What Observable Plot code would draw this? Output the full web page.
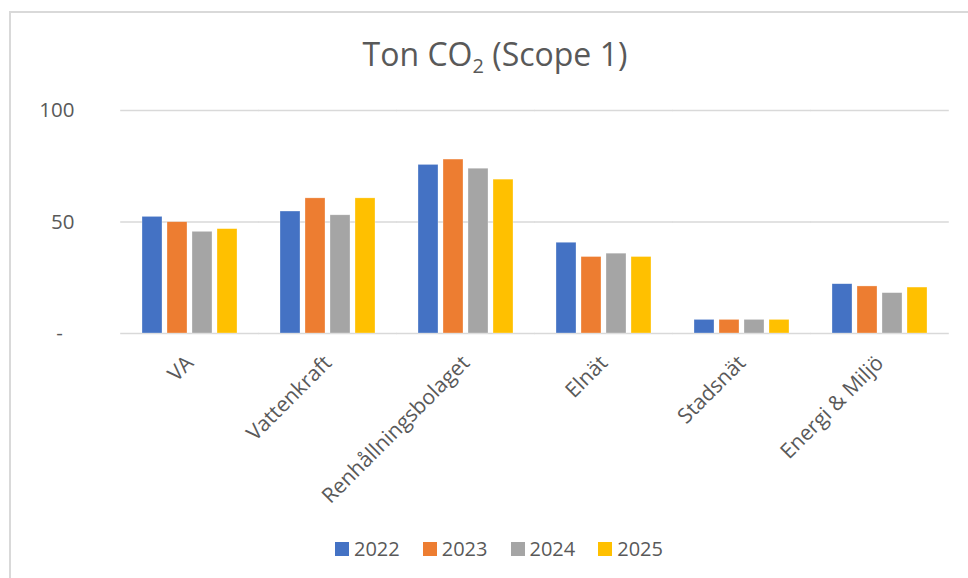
<!DOCTYPE html>
<html>
<head>
<meta charset="utf-8">
<script src="https://cdn.jsdelivr.net/npm/d3@7"></script>
<script src="https://cdn.jsdelivr.net/npm/@observablehq/plot@0.6"></script>
<style>
  html, body { margin: 0; padding: 0; background: #fff; }
  body { width: 968px; height: 578px; position: relative; overflow: hidden; font-family: "Open Sans", sans-serif; }
  #frame { position: absolute; left: 9px; top: 11px; width: 1000px; height: 600px; border-left: 2px solid #d9d9d9; border-top: 2px solid #d9d9d9; }
  #title { position: absolute; left: 0; width: 990px; top: 33px; text-align: center; font-size: 32px; color: #595959; line-height: 42px; }
  #title sub { font-size: 20px; vertical-align: -7px; line-height: 0; }
  #chart { position: absolute; left: 0; top: 0; }
  #legend { position: absolute; left: 335px; top: 536px; display: flex; align-items: center; font-size: 20px; color: #595959; line-height: 26px; }
  #legend .item { display: flex; align-items: center; margin-right: 23px; }
  #legend .sw { width: 14px; height: 14px; margin-right: 5px; }
</style>
</head>
<body>
<div id="frame"></div>
<div id="title">Ton CO<sub>2</sub> (Scope 1)</div>
<div id="chart"></div>
<div id="legend"></div>
<script>
const categories = ["VA", "Vattenkraft", "Renhållningsbolaget", "Elnät", "Stadsnät", "Energi & Miljö"];
const years = ["2022", "2023", "2024", "2025"];
const colors = ["#4472c4", "#ed7d31", "#a5a5a5", "#ffc000"];
const values2022 = [52.3, 54.7, 75.6, 40.7, 6.1, 22.1];
const values2023 = [49.9, 60.6, 78.0, 34.3, 6.1, 21.1];
const values2024 = [45.6, 53.0, 73.9, 35.8, 6.1, 18.1];
const values2025 = [46.8, 60.6, 69.0, 34.3, 6.1, 20.6];
const yTicks = [0, 50, 100];

const series = [values2022, values2023, values2024, values2025];
const data = [];
categories.forEach((c, i) => years.forEach((y, j) => data.push({category: c, year: y, value: series[j][i]})));

const chart = Plot.plot({
  width: 968,
  height: 520,
  marginLeft: 119,
  marginRight: 19,
  marginTop: 110,
  marginBottom: 187,
  style: {fontFamily: "'Open Sans', sans-serif", background: "transparent"},
  fx: {domain: categories, padding: 0.313, paddingOuter: 0.1565, label: null},
  x: {domain: years, padding: 0.2, paddingOuter: 0, axis: null},
  y: {domain: [0, 100], ticks: yTicks, label: null},
  color: {domain: years, range: colors},
  marks: [
    Plot.ruleY(yTicks, {stroke: "#d9d9d9", strokeWidth: 1.5, insetLeft: -21.8, insetRight: -21.8}),
    Plot.barY(data, {fx: "category", x: "year", y: "value", fill: "year", stroke: "white", strokeOpacity: 0.5, strokeWidth: 0.6}),
    Plot.axisY(yTicks, {tickSize: 0, tickPadding: 68, fontSize: 20.5, fill: "#595959", tickFormat: d => d === 0 ? "-\u2007" : String(d), label: null}),
    Plot.axisFx({anchor: "bottom", tickSize: 0, tickRotate: -45, fontSize: 21, fill: "#595959", tickPadding: 26, dx: 0, label: null})
  ]
});
document.getElementById("chart").appendChild(chart);

const legend = document.getElementById("legend");
years.forEach((y, i) => {
  const item = document.createElement("div");
  item.className = "item";
  const sw = document.createElement("div");
  sw.className = "sw";
  sw.style.background = colors[i];
  const t = document.createElement("span");
  t.textContent = y;
  item.appendChild(sw);
  item.appendChild(t);
  legend.appendChild(item);
});
</script>
</body>
</html>
